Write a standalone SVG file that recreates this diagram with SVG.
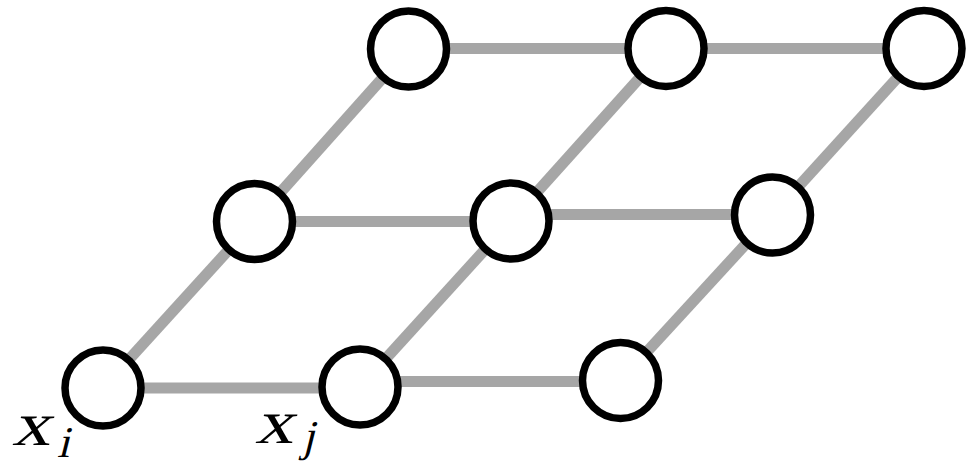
<svg xmlns="http://www.w3.org/2000/svg" width="975" height="466" viewBox="0 0 975 466">
  <style>
    .edge { stroke: #a6a6a6; stroke-width: 11; fill: none; }
    .node { fill: #ffffff; stroke: #000000; stroke-width: 7.5; }
    .lbl { font-family: 'Liberation Serif', 'DejaVu Serif', serif; fill: #000000; }
  </style>
  <rect width="975" height="466" fill="#ffffff"/>

  <!-- lattice edges -->
  <g id="edges">
    <line class="edge" x1="408.5" y1="48.5" x2="666" y2="48.5"/>
    <line class="edge" x1="666" y1="48.5" x2="924" y2="48.5"/>
    <line class="edge" x1="254.5" y1="221.5" x2="511" y2="221.5"/>
    <line class="edge" x1="511" y1="214.5" x2="772.5" y2="214.5"/>
    <line class="edge" x1="103" y1="388" x2="360" y2="388"/>
    <line class="edge" x1="360" y1="381.5" x2="620.5" y2="381.5"/>
    <line class="edge" x1="103" y1="388" x2="254.5" y2="221.5"/>
    <line class="edge" x1="254.5" y1="221.5" x2="408.5" y2="49"/>
    <line class="edge" x1="360" y1="387" x2="511" y2="221"/>
    <line class="edge" x1="511" y1="221" x2="666" y2="48.5"/>
    <line class="edge" x1="620.5" y1="380.5" x2="772.5" y2="215"/>
    <line class="edge" x1="772.5" y1="215" x2="924" y2="48.5"/>
  </g>

  <!-- nodes -->
  <g id="n-top-left"><circle class="node" cx="408.5" cy="49" r="38"/></g>
  <g id="n-top-mid"><circle class="node" cx="666" cy="48.5" r="38"/></g>
  <g id="n-top-right"><circle class="node" cx="924" cy="48.5" r="38"/></g>
  <g id="n-mid-left"><circle class="node" cx="254.5" cy="221.5" r="38"/></g>
  <g id="n-mid-mid"><circle class="node" cx="511" cy="221" r="38"/></g>
  <g id="n-mid-right"><circle class="node" cx="772.5" cy="215" r="38"/></g>
  <g id="n-xi"><circle class="node" cx="103" cy="388" r="38"/></g>
  <g id="n-xj"><circle class="node" cx="360" cy="387" r="38"/></g>
  <g id="n-bot-right"><circle class="node" cx="620.5" cy="380.5" r="38"/></g>

  <!-- labels: math variables, slanted serif -->
  <g id="label-xi">
    <text class="lbl" transform="translate(12,445) skewX(-14)" font-size="62" textLength="38" lengthAdjust="spacingAndGlyphs">x</text>
    <text class="lbl" transform="translate(57,457) skewX(-14)" font-size="44">i</text>
  </g>
  <g id="label-xj">
    <text class="lbl" transform="translate(255,443) skewX(-14)" font-size="62" textLength="38" lengthAdjust="spacingAndGlyphs">x</text>
    <text class="lbl" transform="translate(302,451) skewX(-14)" font-size="44">j</text>
  </g>
</svg>
